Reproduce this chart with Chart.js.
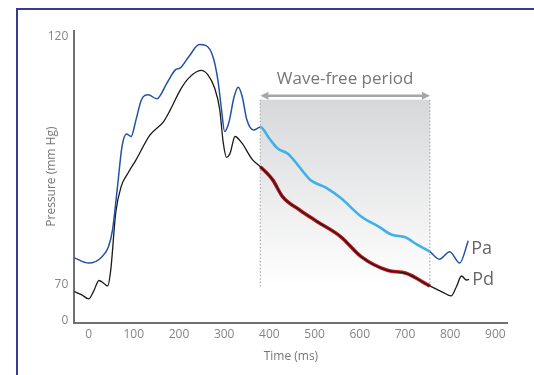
<!DOCTYPE html>
<html>
<head>
<meta charset="utf-8">
<script src="https://cdn.jsdelivr.net/npm/chart.js@4"></script>
<style>
html,body{margin:0;padding:0;background:#fff;overflow:hidden;}
#wrap{position:relative;width:534px;height:375px;overflow:hidden;}
canvas{display:block;}
</style>
</head>
<body>
<div id="wrap"><canvas id="c" width="534" height="375"></canvas></div>
<script>
// ---- data ----
const paTime = [-32, 0, 30, 44, 53, 64, 74, 84, 94, 105, 117, 132, 151, 173, 192, 203, 222, 245, 260, 275, 286, 294, 301, 310, 322, 331, 340, 350, 365, 380, 399, 418, 441, 460, 490, 527, 558, 603, 641, 671, 701, 727, 755, 776, 799, 821, 840];
const paValues = [75.5, 74.4, 75.7, 77.7, 81.1, 89.8, 97.9, 100.4, 99.9, 103.3, 107.3, 108.3, 107.5, 110.6, 113.3, 113.7, 116.0, 118.4, 118.2, 116.0, 111.3, 105.4, 100.9, 102.6, 107.9, 109.8, 107.9, 103.3, 101.2, 101.8, 99.6, 97.5, 96.4, 94.5, 91.2, 89.5, 87.5, 83.8, 81.8, 80.1, 79.6, 78.1, 76.7, 75.2, 76.7, 74.4, 78.9];
const pdTime = [-32, -15, 0, 11, 23, 34, 42, 49, 60, 72, 87, 105, 136, 166, 181, 203, 222, 249, 264, 279, 290, 298, 305, 313, 324, 339, 362, 380, 407, 429, 467, 505, 558, 603, 663, 701, 755, 784, 802, 814, 825, 836, 842];
const pdValues = [68.7, 68.0, 67.2, 68.7, 70.9, 70.3, 69.8, 73.0, 84.5, 89.8, 92.5, 95.2, 100.2, 102.9, 105.3, 109.3, 111.7, 113.2, 112.3, 109.6, 105.4, 98.6, 95.7, 96.5, 99.9, 98.6, 95.3, 93.8, 91.2, 87.8, 85.1, 82.8, 79.7, 75.7, 72.9, 72.4, 69.8, 68.5, 67.8, 69.7, 71.8, 71.0, 71.1];
const xTicks = [0, 100, 200, 300, 400, 500, 600, 700, 800, 900];
const yTicks = [62.75, 70, 120];
const yTickLabels = ['0', '70', '120'];
const waveFree = [380, 755];          // ms
const waveFreeBand = [69.7, 107.3];   // pressure extent of shading
const arrowLevel = 108.1;
const seriesNames = ['Pa', 'Pd'];
const seriesLabelLevels = [77.2, 71.0];
const bandTitle = 'Wave-free period';

const pts = (t, v) => t.map((x, i) => ({x: x, y: v[i]}));
const inWF = ctx => ctx.p0.parsed.x >= waveFree[0] - 0.5 && ctx.p1.parsed.x <= waveFree[1] + 0.5;

const FONT = "'Open Sans', 'DejaVu Sans', sans-serif";

const decor = {
  id: 'decor',
  beforeDraw(chart) {
    const {ctx} = chart;
    ctx.save();
    ctx.fillStyle = '#363c92';
    ctx.fillRect(16, 8, 518, 2);
    ctx.fillRect(16, 8, 2, 367);
    ctx.restore();
  },
  beforeDatasetsDraw(chart) {
    const {ctx, scales: {x, y}} = chart;
    const x0 = x.getPixelForValue(waveFree[0]);
    const x1 = x.getPixelForValue(waveFree[1]);
    const yT = y.getPixelForValue(waveFreeBand[1]);
    const yB = y.getPixelForValue(waveFreeBand[0]);
    ctx.save();
    const g = ctx.createLinearGradient(0, yT, 0, yB);
    g.addColorStop(0, '#d7d8da');
    g.addColorStop(1, '#ffffff');
    ctx.fillStyle = g;
    ctx.fillRect(x0, yT, x1 - x0, yB - yT);
    ctx.strokeStyle = '#a9a9a9';
    ctx.lineWidth = 1.2;
    ctx.setLineDash([1.5, 2]);
    [x0, x1].forEach(px => {
      ctx.beginPath();
      ctx.moveTo(px, yT);
      ctx.lineTo(px, yB);
      ctx.stroke();
    });
    ctx.setLineDash([]);
    // arrow
    const ya = y.getPixelForValue(arrowLevel);
    ctx.strokeStyle = '#a6a6a6';
    ctx.fillStyle = '#a6a6a6';
    ctx.lineWidth = 2.5;
    ctx.beginPath();
    ctx.moveTo(x0 + 4, ya);
    ctx.lineTo(x1 - 4, ya);
    ctx.stroke();
    [[x0, 1], [x1, -1]].forEach(([px, d]) => {
      ctx.beginPath();
      ctx.moveTo(px, ya);
      ctx.lineTo(px + d * 8, ya - 4);
      ctx.lineTo(px + d * 8, ya + 4);
      ctx.closePath();
      ctx.fill();
    });
    ctx.fillStyle = '#777777';
    ctx.font = '17px ' + FONT;
    ctx.textAlign = 'center';
    ctx.textBaseline = 'middle';
    ctx.fillText(bandTitle, (x0 + x1) / 2, ya - 17);
    ctx.restore();
  },
  afterDatasetsDraw(chart) {
    const {ctx, scales: {x, y}} = chart;
    ctx.save();
    ctx.fillStyle = '#666666';
    ctx.font = '18px ' + FONT;
    ctx.textAlign = 'left';
    ctx.textBaseline = 'middle';
    const lastX = [paTime[paTime.length - 1], pdTime[pdTime.length - 1]];
    seriesNames.forEach((n, i) => {
      ctx.fillText(n, x.getPixelForValue(lastX[i]) + 3, y.getPixelForValue(seriesLabelLevels[i]));
    });
    ctx.restore();
  }
};

new Chart(document.getElementById('c'), {
  type: 'line',
  data: {
    datasets: [
      {
        label: 'Pd wave-free halo',
        data: pts(pdTime, pdValues),
        borderWidth: 3.6,
        borderColor: '#c4161c',
        segment: {borderColor: c => inWF(c) ? '#c4161c' : 'rgba(0,0,0,0)'},
        pointRadius: 0,
        cubicInterpolationMode: 'monotone',
        order: 3
      },
      {
        label: 'Pd',
        data: pts(pdTime, pdValues),
        borderWidth: 1.3,
        borderColor: '#1a1a1a',
        pointRadius: 0,
        cubicInterpolationMode: 'monotone',
        order: 2
      },
      {
        label: 'Pa',
        data: pts(paTime, paValues),
        borderWidth: 1.5,
        borderColor: '#2152a6',
        segment: {
          borderColor: c => inWF(c) ? '#3fb1e6' : '#2152a6',
          borderWidth: c => inWF(c) ? 2.6 : 1.5
        },
        pointRadius: 0,
        cubicInterpolationMode: 'monotone',
        order: 1
      }
    ]
  },
  options: {
    responsive: false,
    animation: false,
    events: [],
    layout: {padding: {left: 0, right: 26.5, top: 30.7, bottom: 0}},
    plugins: {legend: {display: false}, tooltip: {enabled: false}},
    scales: {
      x: {
        type: 'linear',
        min: -31.6,
        max: 926.8,
        afterBuildTicks: s => { s.ticks = xTicks.map(v => ({value: v})); },
        afterFit: s => { s.height = 52.5; },
        grid: {display: false, drawTicks: false},
        border: {display: true, color: '#707070', width: 2},
        ticks: {padding: 5, color: '#858585', font: {family: FONT, size: 12}, maxRotation: 0, autoSkip: false},
        title: {display: true, text: 'Time (ms)', color: '#777777', font: {family: FONT, size: 12}, padding: {top: 0, bottom: 11}}
      },
      y: {
        type: 'linear',
        min: 62.44,
        max: 121.2,
        afterBuildTicks: s => { s.ticks = yTicks.map(v => ({value: v})); },
        afterFit: s => { s.width = 74.3; },
        grid: {display: false, drawTicks: false},
        border: {display: true, color: '#707070', width: 2},
        ticks: {
          padding: 6, color: '#858585', font: {family: FONT, size: 12}, autoSkip: false,
          callback: (v, i) => yTickLabels[i]
        },
        title: {display: true, text: 'Pressure (mm Hg)', color: '#777777', font: {family: FONT, size: 12}, padding: {top: 44, bottom: 0}}
      }
    }
  },
  plugins: [decor]
});
</script>
</body>
</html>
